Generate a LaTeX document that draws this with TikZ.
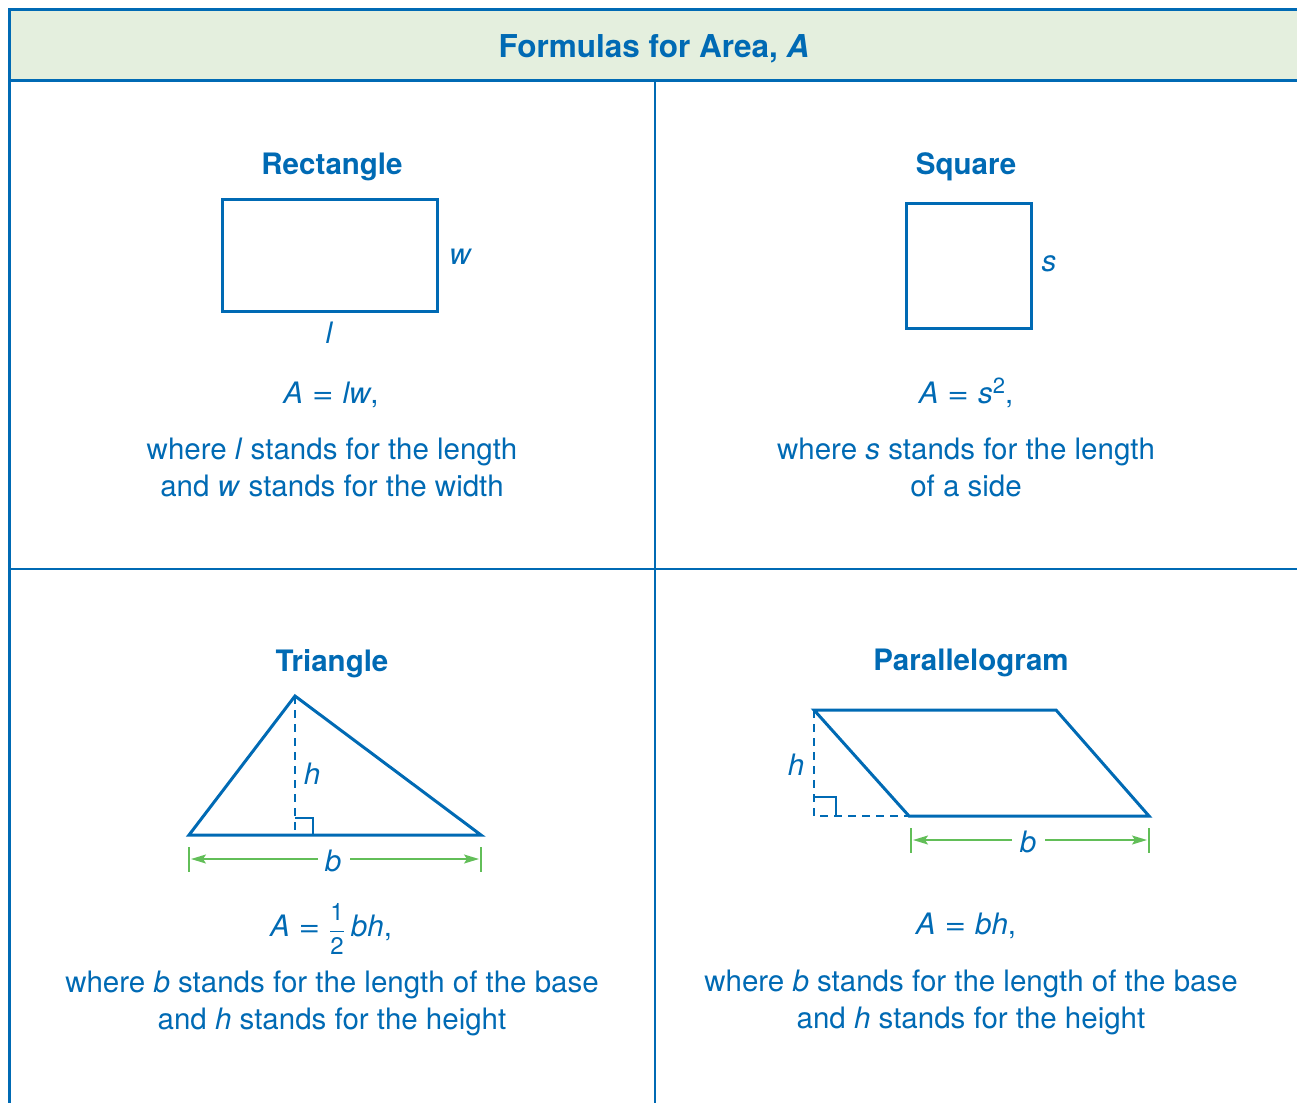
\documentclass[tikz,border=0pt]{standalone}
\usepackage{fontspec}
\usepackage{graphicx}
\setmainfont{TeX Gyre Heros}
\usetikzlibrary{arrows.meta}
\definecolor{mblue}{RGB}{0,106,180}
\definecolor{hdrfill}{RGB}{228,239,222}
\definecolor{mgreen}{RGB}{98,190,88}
\newcommand{\bodyfont}{\fontsize{29.5}{37}\selectfont}
\newcommand{\titlefont}{\fontsize{29.5}{37}\selectfont\bfseries}
\newcommand{\eqsign}{\hspace{9pt}\scalebox{1.25}[1]{=}\hspace{9pt}}
\newcommand{\digit}[1]{\hbox{\fontsize{24}{24}\selectfont #1}}
\begin{document}
\begin{tikzpicture}[x=1pt,y=-1pt,
  frame/.style={draw=mblue,line width=3pt},
  divider/.style={draw=mblue,line width=2pt},
  figline/.style={draw=mblue,line width=3pt},
  dashline/.style={draw=mblue,line width=1.5pt,dash pattern=on 8pt off 6pt},
  rightmark/.style={draw=mblue,line width=1.5pt},
  dimline/.style={draw=mgreen,line width=1.6pt},
  dimarrow/.style={draw=mgreen,line width=1.6pt,-{Stealth[length=15pt,width=9pt,inset=3pt]}},
  txt/.style={text=mblue,inner sep=0pt,font=\bodyfont},
  ttl/.style={text=mblue,inner sep=0pt,font=\titlefont,anchor=base},
  lbl/.style={text=mblue,inner sep=0pt,font=\bodyfont\itshape}
]
\useasboundingbox (0,0) rectangle (1297,1102);
\clip (0,0) rectangle (1297,1102);
% header and frame
\fill[hdrfill] (9,10) rectangle (1310,81);
\draw[frame] (1310,10) -- (9,10) -- (9,1115);
\draw[frame] (9,81) -- (1310,81);
\draw[divider] (655,81) -- (655,1115);
\draw[divider] (9,569) -- (1310,569);
\node[ttl,font=\fontsize{31.5}{37}\selectfont\bfseries] (hdr) at (654,58) {Formulas for Area, \textit{A}};

% Rectangle
\node[ttl] (rtitle) at (332,175) {Rectangle};
\draw[figline] (222,199) rectangle (437,311);
\node[lbl] (rw) at (460,257) {w};
\node[lbl] (rl) at (329,333) {l};
\node[txt,anchor=base] (rform) at (331,403) {\textit{A}\eqsign\textit{lw},};
\node[txt,anchor=base] (rl1) at (332,459) {where \textit{l} stands for the length};
\node[txt,anchor=base] (rl2) at (332,496) {and \textit{w} stands for the width};

% Square
\node[ttl] (stitle) at (966,175) {Square};
\draw[figline] (906,203) rectangle (1031,328);
\node[lbl] (ss) at (1049,264) {s};
\node[txt,anchor=base] (sform) at (966,403) {\textit{A}\eqsign\textit{s}\raisebox{10pt}{\fontsize{22}{22}\selectfont 2},};
\node[txt,anchor=base] (sl1) at (966,459) {where \textit{s} stands for the length};
\node[txt,anchor=base] (sl2) at (966,496) {of a side};

% Triangle
\node[ttl] (ttitle) at (332,671) {Triangle};
\coordinate (ta) at (189,835);
\coordinate (tb) at (481,835);
\coordinate (tc) at (295,696);
\coordinate (tf) at (295,835);
\draw[dashline] (tc) -- (tf);
\draw[rightmark] (295,818) -- (313,818) -- (313,835);
\draw[figline] (ta) -- (tc) -- (tb) -- cycle;
\node[lbl] (th) at (312,774) {h};
\node[lbl] (tbl) at (333,861) {b};
\coordinate (ttl1) at (189,847);
\coordinate (ttl2) at (189,872);
\coordinate (ttr1) at (481,847);
\coordinate (ttr2) at (481,872);
\draw[dimline] (ttl1) -- (ttl2);
\draw[dimline] (ttr1) -- (ttr2);
\coordinate (tal) at (191,859);
\coordinate (tar) at (479,859);
\coordinate (tgl) at (318,859);
\coordinate (tgr) at (350,859);
\draw[dimarrow] (tgl) -- (tal);
\draw[dimarrow] (tgr) -- (tar);
\node[txt,anchor=base] (tform) at (331,936) {\textit{A}\eqsign\raisebox{-1pt}{$\displaystyle\frac{\digit{1}}{\digit{2}}$}\hspace{6pt}\textit{bh},};
\node[txt,anchor=base] (tl1) at (332,992) {where \textit{b} stands for the length of the base};
\node[txt,anchor=base] (tl2) at (332,1029) {and \textit{h} stands for the height};

% Parallelogram
\node[ttl] (ptitle) at (971,670) {Parallelogram};
\coordinate (pa) at (814,710);
\coordinate (pb) at (1056,710);
\coordinate (pc) at (1149,816);
\coordinate (pd) at (909,816);
\coordinate (pf) at (814,816);
\draw[dashline] (pa) -- (pf) -- (pd);
\draw[rightmark] (814,797) -- (836,797) -- (836,816);
\draw[figline] (pa) -- (pb) -- (pc) -- (pd) -- cycle;
\node[lbl] (ph) at (796,765) {h};
\node[lbl] (pbl) at (1028,842) {b};
\draw[dimline] (911,828) -- (911,853);
\draw[dimline] (1149,828) -- (1149,853);
\coordinate (pal) at (913,840);
\coordinate (par) at (1147,840);
\coordinate (pgl) at (1012,840);
\coordinate (pgr) at (1045,840);
\draw[dimarrow] (pgl) -- (pal);
\draw[dimarrow] (pgr) -- (par);
\node[txt,anchor=base] (pform) at (966,934) {\textit{A}\eqsign\textit{bh},};
\node[txt,anchor=base] (pl1) at (971,991) {where \textit{b} stands for the length of the base};
\node[txt,anchor=base] (pl2) at (971,1028) {and \textit{h} stands for the height};
\end{tikzpicture}
\end{document}
